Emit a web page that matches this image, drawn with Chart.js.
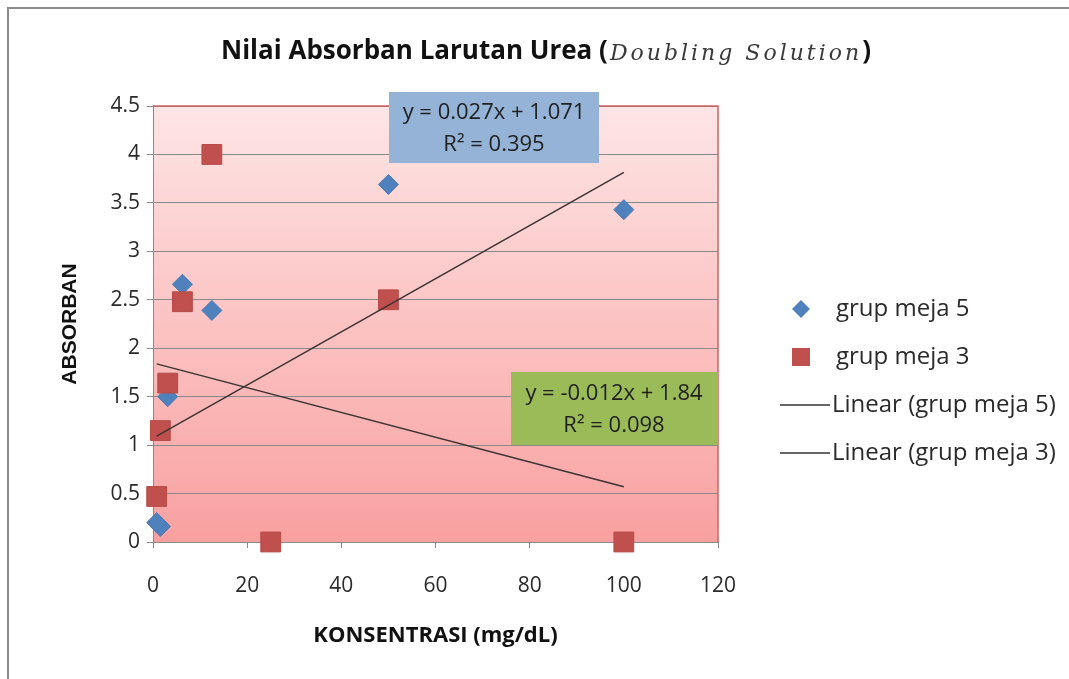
<!DOCTYPE html>
<html>
<head>
<meta charset="utf-8">
<script src="https://cdn.jsdelivr.net/npm/chart.js@4.4.1/dist/chart.umd.min.js"></script>
<style>
  html, body { margin: 0; padding: 0; background: #ffffff; }
  #wrap { width: 1069px; height: 679px; position: relative; }
</style>
</head>
<body>
<div id="wrap"><canvas id="ureaChart" width="1069" height="679"></canvas></div>
<script>
// concentrations (doubling dilution, mg/dL)
const konsentrasi = [100, 50, 25, 12.5, 6.25, 3.125, 1.5625, 0.78125];
const absorbanMeja5 = [3.43, 3.69, 0, 2.39, 2.66, 1.5, 0.16, 0.2];
const absorbanMeja3 = [0, 2.5, 0, 4.0, 2.48, 1.64, 1.15, 0.47];

const seriesNames = ["grup meja 5", "grup meja 3"];
const trendNames = ["Linear (grup meja 5)", "Linear (grup meja 3)"];
const trendText5 = ["y = 0.027x + 1.071", "R\u00B2 = 0.395"];
const trendText3 = ["y = -0.012x + 1.84", "R\u00B2 = 0.098"];
const xTicks = [0, 120, 20];
const yTicks = [0, 4.5, 0.5];

const FONT = "'Open Sans', Lato, sans-serif";

function toPoints(xs, ys) {
  return xs.map((x, i) => ({ x: x, y: ys[i] }));
}

// least squares line, like excel's linear trendline
function trendLine(xs, ys) {
  const n = xs.length;
  const mx = xs.reduce((a, b) => a + b, 0) / n;
  const my = ys.reduce((a, b) => a + b, 0) / n;
  let sxy = 0, sxx = 0;
  for (let i = 0; i < n; i++) {
    sxy += (xs[i] - mx) * (ys[i] - my);
    sxx += (xs[i] - mx) * (xs[i] - mx);
  }
  const slope = sxy / sxx;
  const icpt = my - slope * mx;
  const lo = Math.min(...xs), hi = Math.max(...xs);
  return [{ x: lo, y: icpt + slope * lo }, { x: hi, y: icpt + slope * hi }];
}

const backgroundPlugin = {
  id: "plotBackground",
  beforeDraw(chart) {
    const { ctx, chartArea: { top, bottom, left, right } } = chart;
    ctx.save();
    const grad = ctx.createLinearGradient(0, top, 0, bottom);
    grad.addColorStop(0, "#fee5e5");
    grad.addColorStop(1, "#f9a0a0");
    ctx.fillStyle = grad;
    ctx.fillRect(left, top, right - left, bottom - top);

    // outer frame (only top and left edges visible)
    ctx.strokeStyle = "#8c8c8c";
    ctx.lineWidth = 2;
    ctx.beginPath();
    ctx.moveTo(8, chart.height);
    ctx.lineTo(8, 8);
    ctx.lineTo(chart.width, 8);
    ctx.stroke();
    ctx.restore();
  },
  afterDatasetsDraw(chart) {
    const { ctx, chartArea: { top, bottom, left, right } } = chart;
    ctx.save();
    // red plot border top and right
    ctx.strokeStyle = "#d26262";
    ctx.lineWidth = 1.5;
    ctx.beginPath();
    ctx.moveTo(left, top);
    ctx.lineTo(right, top);
    ctx.lineTo(right, bottom);
    ctx.stroke();

    // trendline equation boxes
    ctx.fillStyle = "#95b3d7";
    ctx.fillRect(389, 92, 210, 71);
    ctx.fillStyle = "#9bbb59";
    ctx.fillRect(511, 372, right - 511, 73);
    ctx.font = "22px " + FONT;
    ctx.textAlign = "center";
    ctx.textBaseline = "middle";
    ctx.fillStyle = "#1f1f1f";
    ctx.fillText(trendText5[0], 494, 113);
    ctx.fillText(trendText5[1], 494, 145);
    ctx.fillText(trendText3[0], 614, 394);
    ctx.fillText(trendText3[1], 614, 426);
    ctx.restore();
  },
  afterDraw(chart) {
    const { ctx } = chart;
    ctx.save();
    // title with the script part
    const part1 = "Nilai Absorban Larutan Urea (";
    const part2 = "Doubling Solution";
    const part3 = ")";
    const f1 = "bold 26px " + FONT;
    const f2 = "italic 22px 'DejaVu Serif', serif";
    ctx.textBaseline = "middle";
    ctx.font = f1;
    const w1 = ctx.measureText(part1).width;
    const w3 = ctx.measureText(part3).width;
    ctx.font = f2;
    ctx.letterSpacing = "3px";
    const w2 = ctx.measureText(part2).width;
    let tx = 545 - (w1 + w2 + w3) / 2;
    ctx.font = f1;
    ctx.letterSpacing = "0px";
    ctx.fillStyle = "#111111";
    ctx.fillText(part1, tx, 52);
    tx += w1 + 2;
    ctx.font = f2;
    ctx.letterSpacing = "3px";
    ctx.fillStyle = "#3a3a3a";
    ctx.fillText(part2, tx, 54);
    tx += w2;
    ctx.font = f1;
    ctx.letterSpacing = "0px";
    ctx.fillStyle = "#111111";
    ctx.fillText(part3, tx, 52);

    // legend
    const lx = 801, ty = [309, 357, 405, 453];
    ctx.font = "24px " + FONT;
    ctx.textAlign = "left";
    ctx.fillStyle = "#4f81bd";
    ctx.beginPath();
    ctx.moveTo(lx, ty[0] - 9);
    ctx.lineTo(lx + 9, ty[0]);
    ctx.lineTo(lx, ty[0] + 9);
    ctx.lineTo(lx - 9, ty[0]);
    ctx.closePath();
    ctx.fill();
    ctx.fillStyle = "#c0504d";
    ctx.fillRect(lx - 9, ty[1] - 9, 18, 18);
    ctx.strokeStyle = "#333333";
    ctx.lineWidth = 1.5;
    [2, 3].forEach((k) => {
      ctx.beginPath();
      ctx.moveTo(780, ty[k]);
      ctx.lineTo(830, ty[k]);
      ctx.stroke();
    });
    ctx.fillStyle = "#2a2a2a";
    ctx.fillText(seriesNames[0], 836, ty[0]);
    ctx.fillText(seriesNames[1], 836, ty[1]);
    ctx.fillText(trendNames[0], 832, ty[2]);
    ctx.fillText(trendNames[1], 832, ty[3]);
    ctx.restore();
  },
};

const ctx = document.getElementById("ureaChart").getContext("2d");
const ureaChart = new Chart(ctx, {
  type: "scatter",
  data: {
    datasets: [
      {
        label: trendNames[0],
        type: "line",
        data: trendLine(konsentrasi, absorbanMeja5),
        borderColor: "#3b3333",
        borderWidth: 1.5,
        pointRadius: 0,
        order: 0,
      },
      {
        label: trendNames[1],
        type: "line",
        data: trendLine(konsentrasi, absorbanMeja3),
        borderColor: "#3b3333",
        borderWidth: 1.5,
        pointRadius: 0,
        order: 1,
      },
      {
        label: seriesNames[1],
        data: toPoints(konsentrasi, absorbanMeja3),
        pointStyle: "rect",
        pointRadius: 14,
        backgroundColor: "#c0504d",
        borderColor: "#b84a47",
        borderWidth: 1,
        clip: false,
        order: 2,
      },
      {
        label: seriesNames[0],
        data: toPoints(konsentrasi, absorbanMeja5),
        pointStyle: "rectRot",
        pointRadius: 10,
        backgroundColor: "#4f81bd",
        borderColor: "#4a7bb7",
        borderWidth: 1,
        clip: false,
        order: 3,
      },
    ],
  },
  plugins: [backgroundPlugin],
  options: {
    responsive: false,
    animation: false,
    layout: {
      padding: { left: 55, right: 351, top: 106, bottom: 19 },
    },
    plugins: {
      legend: { display: false },
      title: { display: false },
      tooltip: { enabled: false },
    },
    scales: {
      x: {
        type: "linear",
        min: xTicks[0],
        max: xTicks[1],
        ticks: {
          stepSize: xTicks[2],
          padding: 25,
          color: "#2a2a2a",
          font: { family: FONT, size: 21 },
        },
        grid: {
          drawOnChartArea: false,
          tickLength: 6,
          color: "#8a8a8a",
        },
        border: { color: "#8a8a8a" },
        title: {
          display: true,
          text: "KONSENTRASI (mg/dL)",
          color: "#111111",
          font: { family: FONT, size: 22, weight: "bold" },
          padding: { top: 3, bottom: 11 },
        },
        afterFit(scale) {
          scale.height = 118;
        },
      },
      y: {
        min: yTicks[0],
        max: yTicks[1],
        ticks: {
          stepSize: yTicks[2],
          padding: 7,
          color: "#2a2a2a",
          font: { family: FONT, size: 21 },
          callback: (v) => String(v),
        },
        grid: {
          tickLength: 6,
          color: "#8a8a8a",
        },
        border: { color: "#8a8a8a" },
        title: {
          display: true,
          text: "ABSORBAN",
          color: "#111111",
          font: { family: "'Liberation Sans', Arial, sans-serif", size: 21, weight: "bold" },
          padding: { top: 3, bottom: 0 },
        },
        afterFit(scale) {
          scale.width = 98;
        },
      },
    },
  },
});
</script>
</body>
</html>
